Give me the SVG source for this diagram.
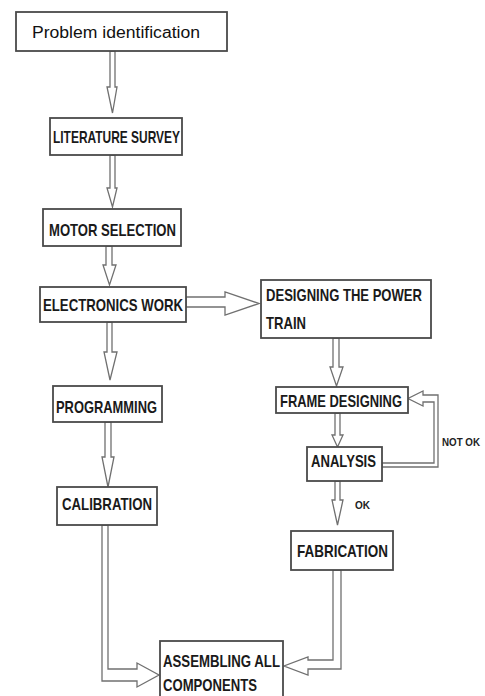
<svg xmlns="http://www.w3.org/2000/svg" width="485" height="696" viewBox="0 0 485 696">
<style>
.box{fill:#fff;stroke:#4a4a4a;stroke-width:1.8}
.arr{fill:#fff;stroke:#707070;stroke-width:1.3;stroke-linejoin:miter}
.lbl{font-family:"Liberation Sans",Arial,sans-serif;font-weight:bold;font-size:17px;fill:#1a1a1a}
.reg{font-family:"Liberation Sans",Arial,sans-serif;font-size:16px;fill:#111}
.sm{font-family:"Liberation Sans",Arial,sans-serif;font-weight:bold;font-size:11px;fill:#222}
</style>
<rect width="485" height="696" fill="#fff"/>
<g id="connectors">
<polygon class="arr" points="110,51 115,51 115,87 117,87 112.5,113 107,87 110,87"/>
<polygon class="arr" points="110,155 115,155 115,188 117,188 112.5,207 107,188 110,188"/>
<polygon class="arr" points="106,246 112,246 112,265 116,265 109.5,285 103,265 106,265"/>
<polygon class="arr" points="107,322 112,322 112,352 117,352 110,380 104,352 107,352"/>
<polygon class="arr" points="105,422 111,422 111,457 114,457 108,487 102,457 105,457"/>
<polygon class="arr" points="186,297 225,297 225,292 259,303.5 225,315 225,307 186,307"/>
<polygon class="arr" points="333,338 339,338 339,367 343,367 336.5,386 330,367 333,367"/>
<polygon class="arr" points="335,413 340,413 340,435 343,435 337.5,447 332,435 335,435"/>
<polygon class="arr" points="382,463 434,463 434,402 423,402 423,406 408,398.5 423,391 423,395 438,395 438,467 382,467"/>
<polygon class="arr" points="335,481 340,481 340,500 343,500 337.5,525 332,500 335,500"/>
<polygon class="arr" points="102,525 108,525 108,669 137,669 137,663 159,675 137,687 137,681 102,681"/>
<polygon class="arr" points="333,570 341,570 341,669 308,669 308,675 284,666 308,657 308,660 333,660"/>
<text class="sm" x="442" y="446" textLength="38" lengthAdjust="spacingAndGlyphs">NOT OK</text>
<text class="sm" x="355" y="509" textLength="15" lengthAdjust="spacingAndGlyphs">OK</text>
</g>
<g id="problem">
<rect class="box" x="16" y="12" width="211" height="39"/>
<text class="reg" x="32" y="38" textLength="168" lengthAdjust="spacingAndGlyphs">Problem identification</text>
</g>
<g id="literature">
<rect class="box" x="50" y="118" width="132" height="37"/>
<text class="lbl" x="53" y="143" textLength="127" lengthAdjust="spacingAndGlyphs">LITERATURE SURVEY</text>
</g>
<g id="motor">
<rect class="box" x="43" y="209" width="138" height="37"/>
<text class="lbl" x="49" y="236" textLength="127" lengthAdjust="spacingAndGlyphs">MOTOR SELECTION</text>
</g>
<g id="electronics">
<rect class="box" x="40" y="287" width="146" height="35"/>
<text class="lbl" x="43" y="311" textLength="140" lengthAdjust="spacingAndGlyphs">ELECTRONICS WORK</text>
</g>
<g id="powertrain">
<rect class="box" x="261" y="280" width="170" height="58"/>
<text class="lbl" x="266" y="301" textLength="156" lengthAdjust="spacingAndGlyphs">DESIGNING THE POWER</text>
<text class="lbl" x="266" y="329" textLength="40" lengthAdjust="spacingAndGlyphs">TRAIN</text>
</g>
<g id="frame">
<rect class="box" x="276" y="387" width="132" height="26"/>
<text class="lbl" x="280" y="407" textLength="122" lengthAdjust="spacingAndGlyphs">FRAME DESIGNING</text>
</g>
<g id="analysis">
<rect class="box" x="307" y="447" width="75" height="34"/>
<text class="lbl" x="311" y="467" textLength="65" lengthAdjust="spacingAndGlyphs">ANALYSIS</text>
</g>
<g id="programming">
<rect class="box" x="53" y="386" width="109" height="36"/>
<text class="lbl" x="56" y="413" textLength="101" lengthAdjust="spacingAndGlyphs">PROGRAMMING</text>
</g>
<g id="calibration">
<rect class="box" x="57" y="487" width="100" height="38"/>
<text class="lbl" x="62" y="510" textLength="90" lengthAdjust="spacingAndGlyphs">CALIBRATION</text>
</g>
<g id="fabrication">
<rect class="box" x="291" y="531" width="102" height="39"/>
<text class="lbl" x="297" y="557" textLength="91" lengthAdjust="spacingAndGlyphs">FABRICATION</text>
</g>
<g id="assembling">
<rect class="box" x="160" y="641" width="123" height="62"/>
<text class="lbl" x="163" y="667" textLength="117" lengthAdjust="spacingAndGlyphs">ASSEMBLING ALL</text>
<text class="lbl" x="163" y="691" textLength="94" lengthAdjust="spacingAndGlyphs">COMPONENTS</text>
</g>
</svg>
